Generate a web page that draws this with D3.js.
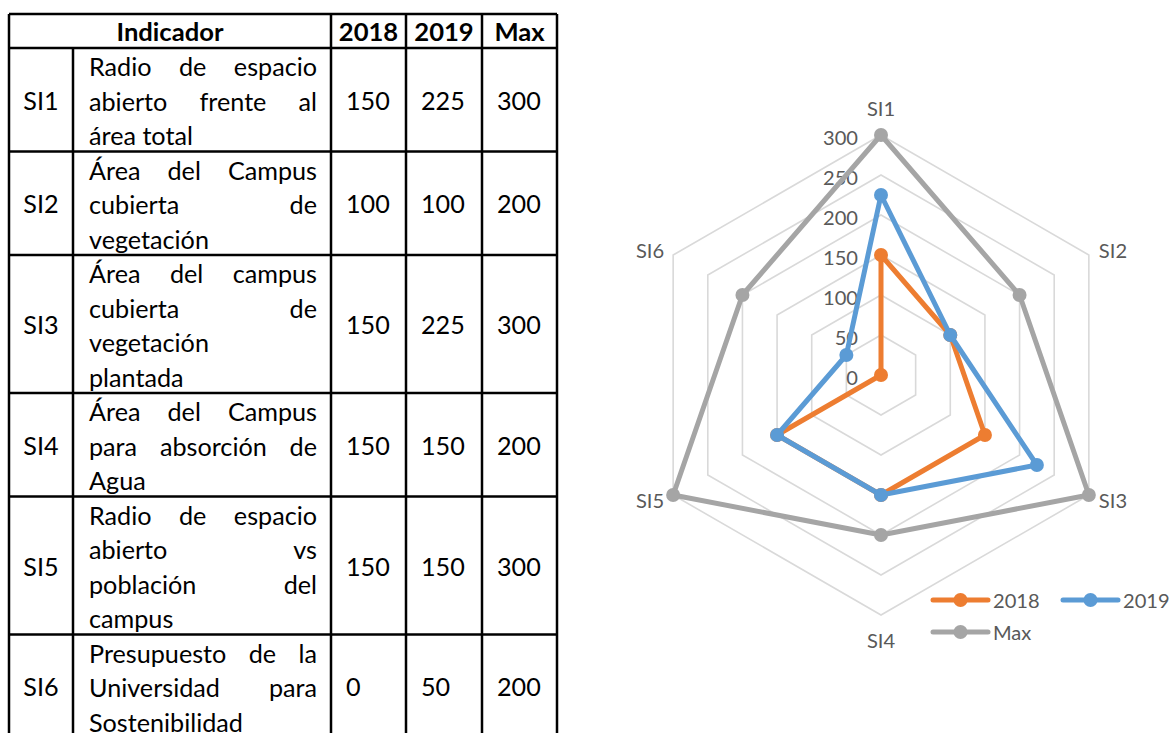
<!DOCTYPE html>
<html><head><meta charset="utf-8">
<script src="https://cdn.jsdelivr.net/npm/d3@7"></script>
<style>html,body{margin:0;padding:0;background:#fff;}svg{display:block;}</style>
</head><body>
<svg id="c" width="1172" height="733"></svg>
<script>
// ---- data ----
const indicators = ["SI1","SI2","SI3","SI4","SI5","SI6"];
const descriptions = [
  ["Radio de espacio","abierto frente al","área total"],
  ["Área del Campus","cubierta de","vegetación"],
  ["Área del campus","cubierta de","vegetación","plantada"],
  ["Área del Campus","para absorción de","Agua"],
  ["Radio de espacio","abierto vs","población del","campus"],
  ["Presupuesto de la","Universidad para","Sostenibilidad"]
];
const values2018 = [150,100,150,150,150,0];
const values2019 = [225,100,225,150,150,50];
const valuesMax  = [300,200,300,200,300,200];
const headers = ["Indicador","2018","2019","Max"];
const seriesNames = ["2018","2019","Max"];
const seriesColors = ["#ED7D31","#5B9BD5","#A5A5A5"];
const radialTicks = [0,50,100,150,200,250,300];

const svg = d3.select("#c");
const FONT = "Lato, 'Open Sans', sans-serif";

function measure(txt, size, weight){
  const t = svg.append("text").attr("font-family",FONT).attr("font-size",size)
    .attr("font-weight",weight||"normal").text(txt);
  const w = t.node().getComputedTextLength(); t.remove(); return w;
}
const tblSize = 100*154/measure("Sostenibilidad",100);
const hdrSize = 100*107/measure("Indicador",100,"bold");
const chartSize = 100*35/measure("300",100);

// ---- table ----
const colX = [9,73,331,406,482,557];
const lineH = 34.5;
const tableTop = 14, headerH = 34;
const rowTops = [tableTop+headerH];
descriptions.forEach(d=>rowTops.push(rowTops[rowTops.length-1]+d.length*lineH));
const tg = svg.append("g");
// header
const hdrCenters = [(colX[0]+colX[2])/2,(colX[2]+colX[3])/2,(colX[3]+colX[4])/2,(colX[4]+colX[5])/2];
tg.selectAll("text.h").data(headers).join("text")
  .attr("x",(d,i)=>hdrCenters[i]).attr("y",tableTop+headerH/2)
  .attr("text-anchor","middle").attr("dominant-baseline","central")
  .attr("font-family",FONT).attr("font-weight","bold").attr("font-size",hdrSize)
  .attr("fill","#000").text(d=>d);
const descLeft = 89, descRight = 317;
indicators.forEach((id,i)=>{
  const top = rowTops[i], bot = rowTops[i+1], mid=(top+bot)/2;
  tg.append("text").attr("x",(colX[0]+colX[1])/2).attr("y",mid)
    .attr("text-anchor","middle").attr("dominant-baseline","central")
    .attr("font-family",FONT).attr("font-size",tblSize).text(id);
  const lines = descriptions[i];
  lines.forEach((ln,j)=>{
    const y = top + 18 + j*lineH;
    const words = ln.split(" ");
    if (j===lines.length-1 || words.length===1){
      tg.append("text").attr("x",descLeft).attr("y",y).attr("dominant-baseline","central")
        .attr("font-family",FONT).attr("font-size",tblSize).text(ln);
    } else {
      const ws = words.map(w=>measure(w,tblSize));
      const gap = (descRight-descLeft-d3.sum(ws))/(words.length-1);
      let x = descLeft;
      words.forEach((w,k)=>{
        tg.append("text").attr("x",x).attr("y",y).attr("dominant-baseline","central")
          .attr("font-family",FONT).attr("font-size",tblSize).text(w);
        x += ws[k]+gap;
      });
    }
  });
  [values2018[i],values2019[i],valuesMax[i]].forEach((v,k)=>{
    tg.append("text").attr("x",colX[2+k]+15).attr("y",mid)
      .attr("dominant-baseline","central").attr("font-family",FONT).attr("font-size",tblSize).text(v);
  });
});
// grid lines
const tableBottom = 760;
const hl = [tableTop, ...rowTops.slice(0,-1)];
hl.forEach((y,i)=>{
  tg.append("line").attr("x1",colX[0]).attr("x2",colX[5]).attr("y1",y).attr("y2",y)
    .attr("stroke","#000").attr("stroke-width",2.5);
});
colX.forEach((x,i)=>{
  tg.append("line").attr("x1",x).attr("x2",x)
    .attr("y1",(i===1)?tableTop+headerH:tableTop).attr("y2",tableBottom)
    .attr("stroke","#000").attr("stroke-width",2.5);
});

// ---- radar ----
const cx = 881, cy = 375, R = 240;
const r = d3.scaleLinear().domain([0,300]).range([0,R]);
const ang = d3.scalePoint().domain(indicators.concat(["_"])).range([0,2*Math.PI]);
const rg = svg.append("g").attr("transform",`translate(${cx},${cy})`);
const radial = d3.lineRadial().angle((d,i)=>ang(indicators[i])).radius(d=>r(d)).curve(d3.curveLinearClosed);
radialTicks.filter(t=>t>0).forEach(t=>{
  rg.append("path").attr("d",radial(indicators.map(()=>t)))
    .attr("fill","none").attr("stroke","#D9D9D9").attr("stroke-width",1.6);
});
rg.selectAll("text.tick").data(radialTicks).join("text")
  .attr("x",-23).attr("y",d=>-r(d)+2).attr("text-anchor","end").attr("dominant-baseline","central")
  .attr("font-family",FONT).attr("font-size",chartSize).attr("fill","#595959").text(d=>d);
// category labels
indicators.forEach((id,i)=>{
  const a = ang(id);
  const px = Math.sin(a)*R, py = -Math.cos(a)*R;
  let x=px, y=py, anchor="middle";
  if (Math.abs(px)<1){ y = py + (py<0?-27:25); }
  else { x = px + (px>0?10:-9); y = py + (py<0?-5:5); anchor = px>0?"start":"end"; }
  rg.append("text").attr("x",x).attr("y",y).attr("text-anchor",anchor).attr("dominant-baseline","central")
    .attr("font-family",FONT).attr("font-size",chartSize).attr("fill","#595959").text(id);
});
const allSeries = [values2018, values2019, valuesMax];
allSeries.forEach((vals,s)=>{
  rg.append("path").attr("d",radial(vals)).attr("fill","none")
    .attr("stroke",seriesColors[s]).attr("stroke-width",5).attr("stroke-linejoin","round");
  rg.selectAll(null).data(vals).join("circle")
    .attr("cx",(d,i)=>Math.sin(ang(indicators[i]))*r(d))
    .attr("cy",(d,i)=>-Math.cos(ang(indicators[i]))*r(d))
    .attr("r",7).attr("fill",seriesColors[s]);
});
// legend
const legPos = [[933,600],[1063,600],[933,632]];
seriesNames.forEach((n,s)=>{
  const [x,y] = legPos[s];
  const g = svg.append("g");
  g.append("line").attr("x1",x).attr("x2",x+55).attr("y1",y).attr("y2",y)
    .attr("stroke",seriesColors[s]).attr("stroke-width",5).attr("stroke-linecap","round");
  g.append("circle").attr("cx",x+27.5).attr("cy",y).attr("r",7).attr("fill",seriesColors[s]);
  g.append("text").attr("x",x+60).attr("y",y).attr("dominant-baseline","central")
    .attr("font-family",FONT).attr("font-size",chartSize).attr("fill","#595959").text(n);
});
</script>
</body></html>
